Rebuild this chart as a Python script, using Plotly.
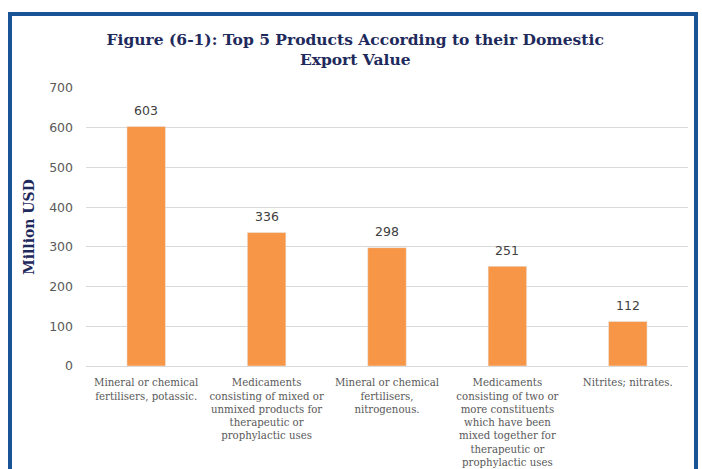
#top 5 domestic export products as a bar chart with framed title

import plotly.graph_objs as go

categories = [
    'Mineral or chemical<br>fertilisers, potassic.',
    'Medicaments<br>consisting of mixed or<br>unmixed products for<br>therapeutic or<br>prophylactic uses',
    'Mineral or chemical<br>fertilisers,<br>nitrogenous.',
    'Medicaments<br>consisting of two or<br>more constituents<br>which have been<br>mixed together for<br>therapeutic or<br>prophylactic uses',
    'Nitrites; nitrates.',
]
values = [603, 336, 298, 251, 112]
y_ticks = [0, 100, 200, 300, 400, 500, 600, 700]

navy = '#1F2A5C'
frame_blue = '#1B5496'
grey_text = '#595959'

# Bar trace
trace = go.Bar(
    x=categories,
    y=values,
    marker=dict(color='#F79646'),
    hoverinfo='x+y'
)

# Value labels above each bar
value_labels = []
for cat, val in zip(categories, values):
    value_labels.append(dict(
        x=cat,
        y=val,
        xref='x', yref='y',
        text=str(val),
        showarrow=False,
        yanchor='middle',
        yshift=16,
        font=dict(family='DejaVu Sans', size=12.5, color='#404040')
    ))

layout = go.Layout(
    width=702,
    height=469,
    margin=dict(l=86, r=14, t=88, b=103),
    paper_bgcolor='white',
    plot_bgcolor='white',
    bargap=0.68,
    showlegend=False,
    title=dict(
        text='Figure (6-1): Top 5 Products According to their Domestic<br>Export Value',
        x=0.506,
        xanchor='center',
        y=0.904,
        yanchor='middle',
        font=dict(family='DejaVu Serif', size=15.5, color=navy, weight='bold')
    ),
    xaxis=dict(
        tickfont=dict(family='DejaVu Serif', size=10.2, color=grey_text),
        showline=True,
        linecolor='#D9D9D9',
        linewidth=1,
        ticks='',
        ticklabelstandoff=7,
        automargin=False,
        fixedrange=True
    ),
    yaxis=dict(
        range=[0, 700],
        tickvals=y_ticks,
        tickfont=dict(family='DejaVu Sans', size=12.5, color=grey_text),
        gridcolor='#D9D9D9',
        zeroline=False,
        ticklabelstandoff=12,
        automargin=False,
        title=dict(
            text='Million USD',
            font=dict(family='DejaVu Serif', size=14, color=navy, weight='bold'),
            standoff=11
        ),
        fixedrange=True
    ),
    annotations=value_labels,
    shapes=[
        # dark blue frame around the chart (bottom edge runs off the page)
        dict(
            type='rect',
            xref='paper', yref='paper',
            x0=(10 - 86) / 602, x1=(696 - 86) / 602,
            y0=(366 - 490) / 278, y1=(366 - 14) / 278,
            line=dict(color=frame_blue, width=4),
            fillcolor='rgba(0,0,0,0)',
            layer='above'
        )
    ]
)

fig = go.Figure(data=[trace], layout=layout)
# drop the default page margin so the 702x469 figure fills the window
fig.write_html('out.html', config=dict(displayModeBar=False),
               post_script="document.body.style.margin='0';")
